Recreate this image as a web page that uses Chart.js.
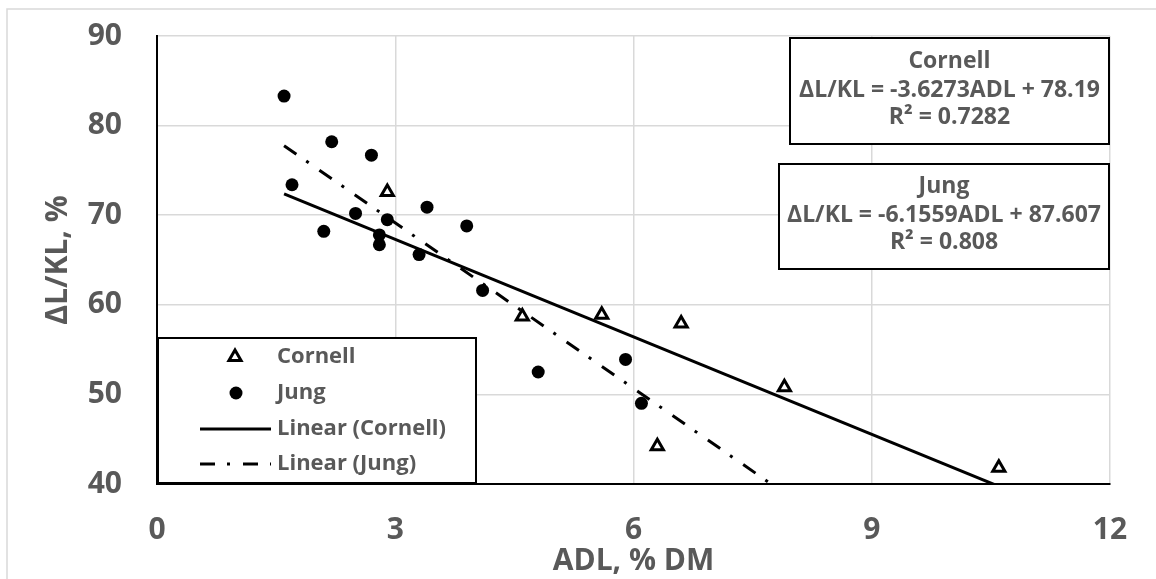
<!DOCTYPE html>
<html>
<head>
<meta charset="utf-8">
<script src="https://cdn.jsdelivr.net/npm/chart.js@4.4.1/dist/chart.umd.min.js"></script>
<style>
    html, body { margin: 0; padding: 0; background: #fff; }
    #wrap { width: 1156px; height: 579px; position: relative; }
</style>
</head>
<body>
<div id="wrap"><canvas id="chart"></canvas></div>
<script>
// data
const cornellAdl = [2.9, 4.6, 5.6, 6.6, 6.3, 7.9, 10.6];
const cornellDlkl = [72.6, 58.7, 58.9, 57.9, 44.2, 50.8, 41.8];
const jungAdl = [1.6, 1.7, 2.1, 2.2, 2.5, 2.7, 2.8, 2.8, 2.9, 3.3, 3.4, 3.9, 4.1, 4.8, 5.9, 6.1];
const jungDlkl = [83.3, 73.4, 68.2, 78.2, 70.2, 76.7, 67.8, 66.7, 69.5, 65.6, 70.9, 68.8, 61.6, 52.5, 53.9, 49.0];

// trendline end points (fit drawn over ADL 1.6 .. 10.6, clipped by the axis)
const fitAdl = [1.6, 10.6];
const cornellFit = [72.39, 39.74];
const jungFit = [77.76, 22.35];

const xTicks = [0, 3, 6, 9, 12];
const yTicks = [40, 50, 60, 70, 80, 90];

const cornellEq = ['Cornell', 'ΔL/KL = -3.6273ADL + 78.19', 'R² = 0.7282'];
const jungEq = ['Jung', 'ΔL/KL = -6.1559ADL + 87.607', 'R² = 0.808'];

const FONT = '"Open Sans", "Noto Sans", sans-serif';
const GREY = '#595959';
const JUNG_DASH = [15, 12, 3, 13];

function toPoints(xs, ys) {
    return xs.map((x, i) => ({ x: x, y: ys[i] }));
}

// text boxes, legend and outer frame
const overlayPlugin = {
    id: 'overlay',
    afterDraw(chart) {
        const ctx = chart.ctx;
        ctx.save();

        // outer chart frame
        ctx.strokeStyle = '#d9d9d9';
        ctx.lineWidth = 1.5;
        ctx.strokeRect(7, 9, 1200, 600);

        // equation boxes
        function eqBox(lines, x1, y1, x2, y2, ys) {
            ctx.fillStyle = '#fff';
            ctx.fillRect(x1, y1, x2 - x1, y2 - y1);
            ctx.strokeStyle = '#000';
            ctx.lineWidth = 2;
            ctx.strokeRect(x1, y1, x2 - x1, y2 - y1);
            ctx.fillStyle = GREY;
            ctx.font = 'bold 23px ' + FONT;
            ctx.textAlign = 'center';
            ctx.textBaseline = 'middle';
            lines.forEach((t, i) => ctx.fillText(t, (x1 + x2) / 2, ys[i]));
        }
        eqBox(cornellEq, 790, 38, 1109, 144, [61, 90, 117]);
        eqBox(jungEq, 779, 164, 1109, 269, [186, 215, 242]);

        // legend
        const lx1 = 158, ly1 = 338, lx2 = 476, ly2 = 483;
        ctx.fillStyle = '#fff';
        ctx.fillRect(lx1, ly1, lx2 - lx1, ly2 - ly1);
        ctx.strokeStyle = '#000';
        ctx.lineWidth = 2;
        ctx.strokeRect(lx1, ly1, lx2 - lx1, ly2 - ly1);

        const rowY = [357, 393, 429, 464];
        const ds = chart.data.datasets;
        ds.forEach((d, i) => {
            const y = rowY[i];
            ctx.strokeStyle = '#000';
            ctx.fillStyle = '#000';
            if (d.showLine) {
                ctx.lineWidth = d.borderWidth;
                ctx.setLineDash(d.borderDash || []);
                ctx.beginPath();
                ctx.moveTo(200, y);
                ctx.lineTo(271, y);
                ctx.stroke();
                ctx.setLineDash([]);
            } else if (d.pointStyle === 'triangle') {
                const r = d.pointRadius;
                ctx.lineWidth = d.pointBorderWidth;
                ctx.fillStyle = '#fff';
                ctx.beginPath();
                ctx.moveTo(235, y - r);
                ctx.lineTo(235 + 0.866 * r, y + 0.5 * r);
                ctx.lineTo(235 - 0.866 * r, y + 0.5 * r);
                ctx.closePath();
                ctx.fill();
                ctx.stroke();
            } else {
                ctx.beginPath();
                ctx.arc(236, y, d.pointRadius, 0, Math.PI * 2);
                ctx.fill();
            }
            ctx.fillStyle = GREY;
            ctx.font = 'bold 22px ' + FONT;
            ctx.textAlign = 'left';
            ctx.textBaseline = 'middle';
            ctx.fillText(d.label, 277, y);
        });

        ctx.restore();
    }
};

const ctx = document.getElementById('chart').getContext('2d');
new Chart(ctx, {
    type: 'scatter',
    data: {
        datasets: [
            {
                label: 'Cornell',
                data: toPoints(cornellAdl, cornellDlkl),
                pointStyle: 'triangle',
                pointRadius: 7,
                pointBorderWidth: 3,
                borderColor: '#000',
                backgroundColor: '#fff',
                showLine: false
            },
            {
                label: 'Jung',
                data: toPoints(jungAdl, jungDlkl),
                pointStyle: 'circle',
                pointRadius: 6.5,
                pointBorderWidth: 0,
                borderColor: '#000',
                backgroundColor: '#000',
                showLine: false
            },
            {
                label: 'Linear (Cornell)',
                data: toPoints(fitAdl, cornellFit),
                showLine: true,
                borderColor: '#000',
                borderWidth: 3,
                pointRadius: 0,
                fill: false
            },
            {
                label: 'Linear (Jung)',
                data: toPoints(fitAdl, jungFit),
                showLine: true,
                borderColor: '#000',
                borderWidth: 3,
                borderDash: JUNG_DASH,
                borderCapStyle: 'butt',
                pointRadius: 0,
                fill: false
            }
        ]
    },
    options: {
        responsive: true,
        maintainAspectRatio: false,
        animation: false,
        layout: {
            padding: { top: 36, right: 46, left: 0, bottom: 0 }
        },
        plugins: {
            legend: { display: false },
            tooltip: { enabled: false }
        },
        scales: {
            x: {
                type: 'linear',
                min: xTicks[0],
                max: xTicks[xTicks.length - 1],
                afterFit: function(scale) {
                    scale.height = 95;
                    scale.paddingLeft = 0;
                    scale.paddingRight = 0;
                },
                ticks: {
                    stepSize: xTicks[1] - xTicks[0],
                    padding: 28,
                    color: GREY,
                    font: { family: FONT, size: 30, weight: 'bold' }
                },
                grid: { color: '#d9d9d9', lineWidth: 1.5, drawTicks: false },
                border: { color: '#000', width: 2 },
                title: {
                    display: true,
                    text: 'ADL, % DM',
                    color: GREY,
                    padding: { top: 0, bottom: 0 },
                    font: { family: FONT, size: 30, weight: 'bold' }
                }
            },
            y: {
                type: 'linear',
                min: yTicks[0],
                max: yTicks[yTicks.length - 1],
                afterFit: function(scale) {
                    scale.width = 157;
                    scale.paddingTop = 0;
                    scale.paddingBottom = 0;
                },
                ticks: {
                    stepSize: yTicks[1] - yTicks[0],
                    padding: 35,
                    color: GREY,
                    font: { family: FONT, size: 30, weight: 'bold' }
                },
                grid: { color: '#d9d9d9', lineWidth: 1.5, drawTicks: false },
                border: { color: '#000', width: 2 },
                title: {
                    display: true,
                    text: 'ΔL/KL, %',
                    color: GREY,
                    padding: { top: 40, bottom: 0 },
                    font: { family: FONT, size: 30, weight: 'bold' }
                }
            }
        }
    },
    plugins: [overlayPlugin]
});
</script>
</body>
</html>
